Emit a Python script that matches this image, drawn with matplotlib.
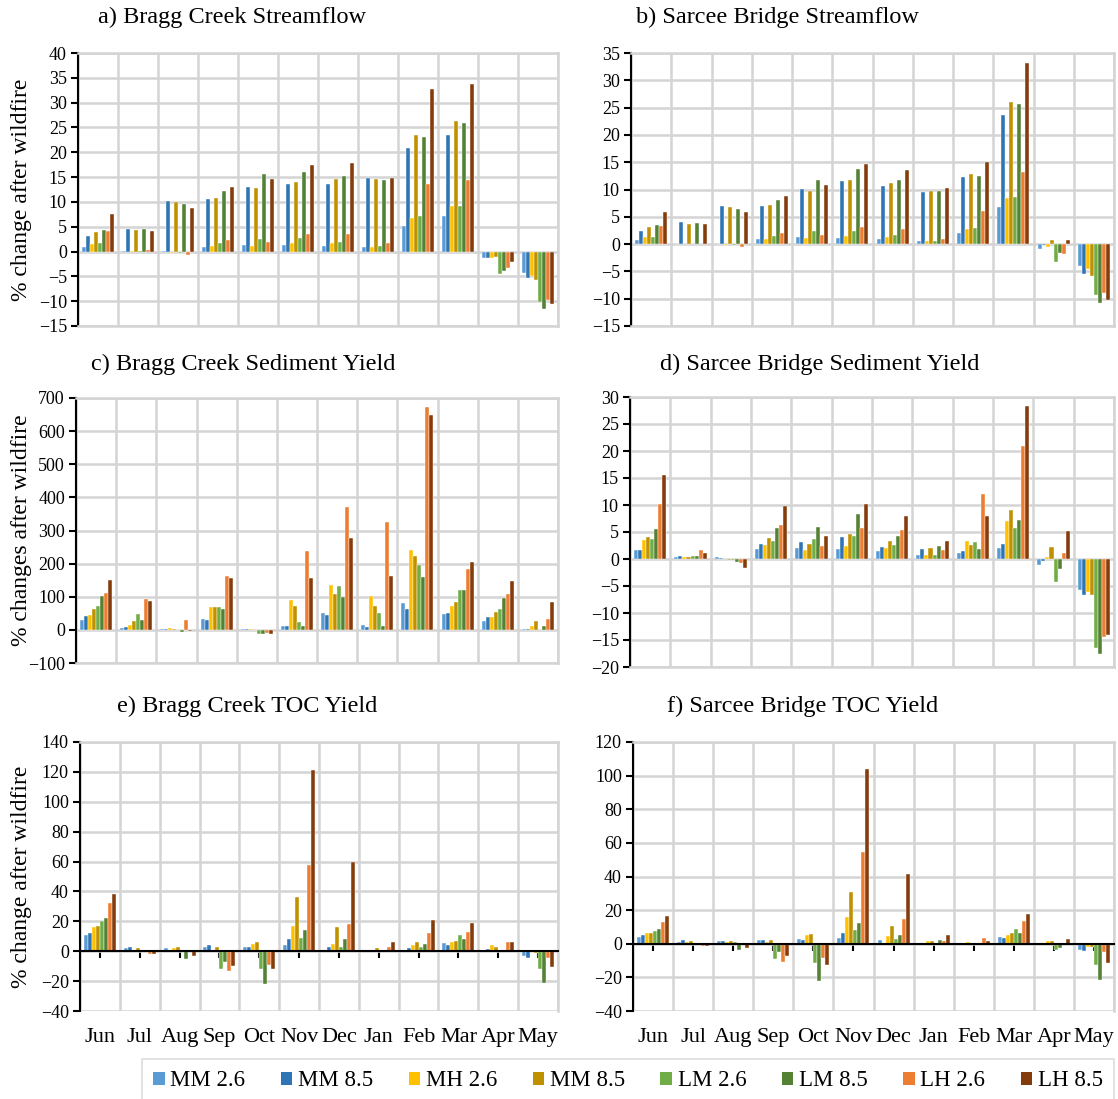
import numpy as np
import matplotlib.pyplot as plt
from matplotlib.patches import Patch

plt.rcParams['font.family'] = ['Liberation Serif', 'DejaVu Serif']

months = ["Jun", "Jul", "Aug", "Sep", "Oct", "Nov", "Dec", "Jan", "Feb", "Mar", "Apr", "May"]
series = ["MM 2.6", "MM 8.5", "MH 2.6", "MM 8.5", "LM 2.6", "LM 8.5", "LH 2.6", "LH 8.5"]
colors = ["#5B9BD5", "#2E75B6", "#FFC000", "#BF9000", "#70AD47", "#548235", "#ED7D31", "#843C0C"]

# one row per month, one column per scenario (order as in `series`)
bragg_flow = [
    [1.0, 3.2, 1.6, 4.0, 1.8, 4.4, 4.2, 7.6],
    [0.1, 4.6, 0.2, 4.4, 0.2, 4.6, 0.4, 4.2],
    [0.1, 10.2, -0.2, 10.0, -0.2, 9.6, -0.6, 8.8],
    [1.0, 10.6, 1.2, 10.8, 1.8, 12.2, 2.4, 13.0],
    [1.4, 13.0, 1.2, 12.8, 2.6, 15.6, 2.0, 14.6],
    [1.4, 13.6, 1.8, 14.0, 2.8, 16.0, 3.6, 17.4],
    [1.2, 13.6, 1.8, 14.6, 2.0, 15.2, 3.6, 17.8],
    [1.0, 14.8, 1.0, 14.6, 1.2, 14.4, 1.8, 14.8],
    [5.2, 20.8, 6.8, 23.4, 7.2, 23.0, 13.6, 32.8],
    [7.2, 23.4, 9.2, 26.4, 9.2, 25.8, 14.4, 33.8],
    [-1.4, -1.2, -1.4, -1.0, -4.6, -4.0, -3.4, -2.2],
    [-4.4, -5.4, -5.0, -5.7, -10.1, -11.5, -9.7, -10.6],
]
sarcee_flow = [
    [0.7, 2.4, 1.3, 3.1, 1.3, 3.5, 3.3, 5.9],
    [0.1, 4.0, 0.1, 3.7, 0.1, 3.8, 0.1, 3.7],
    [0.1, 7.0, -0.1, 6.8, -0.1, 6.4, -0.5, 5.8],
    [0.9, 7.0, 0.9, 7.2, 1.4, 8.1, 2.0, 8.8],
    [1.3, 10.1, 1.1, 9.7, 2.4, 11.8, 1.6, 10.9],
    [1.1, 11.5, 1.4, 11.8, 2.4, 13.8, 3.1, 14.6],
    [0.9, 10.6, 1.3, 11.2, 1.6, 11.7, 2.7, 13.5],
    [0.5, 9.5, 0.5, 9.7, 0.5, 9.8, 0.9, 10.2],
    [2.0, 12.3, 2.7, 12.9, 2.9, 12.4, 6.1, 15.1],
    [6.8, 23.7, 8.4, 26.0, 8.6, 25.7, 13.2, 33.1],
    [-0.9, -0.1, -0.6, 0.7, -3.2, -1.6, -1.8, 0.7],
    [-4.1, -5.4, -4.5, -5.8, -9.4, -10.8, -9.0, -10.3],
]
bragg_sed = [
    [30, 41, 44, 62, 71, 101, 110, 151],
    [5, 9, 15, 26, 47, 29, 92, 86],
    [2, 2, 6, 3, -1, -5, 29, -3],
    [33, 30, 68, 68, 68, 62, 164, 158],
    [2, 2, 2, 0, -12, -13, -9, -12],
    [12, 12, 89, 71, 23, 11, 237, 158],
    [50, 44, 136, 109, 131, 98, 371, 276],
    [15, 8, 103, 71, 50, 11, 327, 164],
    [81, 63, 241, 222, 195, 161, 672, 648],
    [47, 50, 73, 85, 119, 121, 184, 205],
    [26, 38, 40, 55, 64, 97, 109, 148],
    [2, 2, 11, 28, -1, 13, 34, 84],
]
sarcee_sed = [
    [1.6, 1.6, 3.6, 4.1, 3.7, 5.6, 10.2, 15.6],
    [0.4, 0.5, 0.3, 0.3, 0.5, 0.5, 1.7, 1.2],
    [0.3, 0.1, 0.0, -0.1, -0.2, -0.5, -0.8, -1.7],
    [1.9, 2.8, 2.6, 3.9, 3.4, 5.8, 6.3, 9.8],
    [2.1, 3.2, 1.6, 2.7, 3.7, 5.9, 2.5, 4.3],
    [1.9, 4.1, 2.5, 4.6, 4.3, 8.3, 5.8, 10.1],
    [1.4, 2.3, 2.1, 3.4, 2.6, 4.3, 5.4, 7.9],
    [0.7, 1.9, 0.8, 2.1, 0.8, 2.5, 1.7, 3.4],
    [1.2, 1.4, 3.4, 2.6, 3.2, 1.9, 12.1, 7.9],
    [2.1, 2.8, 7.0, 9.1, 5.8, 7.2, 20.9, 28.4],
    [-1.1, -0.3, 0.3, 2.3, -4.3, -1.8, 1.2, 5.2],
    [-5.8, -6.6, -6.2, -6.6, -16.5, -17.6, -14.5, -14.0],
]
bragg_toc = [
    [11, 12, 16, 17, 20, 22, 32, 38],
    [2, 2.5, 1, 2, 0, 0, -2, -2],
    [2, 1, 2, 2.5, 1, -5, 0, -3],
    [3, 4, 1, 3, -12, -7, -13, -10],
    [3, 3, 5, 6, -12, -22, -9, -12],
    [4, 8, 17, 36, 9, 14, 58, 121],
    [1, 3, 5, 16, 3, 8, 18, 60],
    [0, 0, 0, 2, 0, 1, 3, 6],
    [1, 2, 4, 6.5, 3, 5, 12, 21],
    [5.3, 4, 6, 6.6, 10.6, 8.4, 13, 18.7],
    [0, 1.5, 4, 2.6, 0, 0, 6, 6],
    [-3.2, -4.5, -0.3, -1.4, -11.7, -21.5, -4.3, -10.3],
]
sarcee_toc = [
    [4, 5, 6.5, 6.5, 7.5, 8.5, 13, 16.5],
    [1, 2, 1, 1.5, 0, 0, -1.5, -1.5],
    [1.5, 1.5, 1, 1.5, 1, -4, 0, -2.5],
    [2, 2.5, 1, 2, -9, -5, -11, -7],
    [3, 2.5, 5, 6, -11.5, -22, -8.5, -12.5],
    [3.5, 6.5, 16, 30.5, 8, 12.5, 54.5, 104],
    [2, 0, 4.5, 10.5, 3, 5, 15, 41.5],
    [0, 0, 1.5, 1.5, 0, 2, 1.5, 5.5],
    [0, 0, 1, 0.5, 0, 0, 3.5, 1.5],
    [4, 3.5, 5.5, 6.5, 9, 6.5, 13.5, 17.5],
    [0, 0, 1.5, 1.5, -3.5, -2.5, 0, 3],
    [-4, -4.5, -2, -2, -12.5, -21.5, -5, -11.5],
]

W, H = 1118, 1099
fig = plt.figure(figsize=(W / 100, H / 100), dpi=100)
grid_c = "#d4d4d4"

panels = [
    # data, title, ylabel, yticks, box(left, right, top, bottom px), title pos, bottom row
    (bragg_flow, "a) Bragg Creek Streamflow", "% change after wildfire", np.arange(-15, 41, 5), (78, 558, 53, 326), (232, 17), False),
    (sarcee_flow, "b) Sarcee Bridge Streamflow", None, np.arange(-15, 36, 5), (631, 1114, 53, 326), (777, 17), False),
    (bragg_sed, "c) Bragg Creek Sediment Yield", "% changes after wildfire", np.arange(-100, 701, 100), (76, 558, 398, 663), (243, 364), False),
    (sarcee_sed, "d) Sarcee Bridge Sediment Yield", None, np.arange(-20, 31, 5), (630, 1114, 397, 667), (820, 364), False),
    (bragg_toc, "e) Bragg Creek TOC Yield", "% change after wildfire", np.arange(-40, 141, 20), (80, 558, 742, 1011), (247, 706), True),
    (sarcee_toc, "f) Sarcee Bridge TOC Yield", None, np.arange(-40, 121, 20), (633, 1114, 742, 1011), (803, 706), True),
]

x = np.arange(len(months)) + 0.5
bw = 0.1

for data, title, ylabel, yticks, box, tpos, bottom_row in panels:
    l, r, t, b = box
    ax = fig.add_axes([l / W, 1 - b / H, (r - l) / W, (b - t) / H])
    vals = np.array(data).T
    for i, (name, c) in enumerate(zip(series, colors)):
        ax.bar(x + (i - 3.5) * bw, vals[i], width=bw, color=c,
               edgecolor="white", linewidth=0.3, zorder=3)
    ax.set_xlim(0, 12)
    ax.set_ylim(yticks[0], yticks[-1])
    ax.set_yticks(yticks)
    ax.set_xticks(np.arange(13), minor=True)
    ax.set_xticks(x)
    ax.grid(which="minor", axis="x", color=grid_c, lw=1.8)
    ax.grid(which="major", axis="y", color=grid_c, lw=1.8)
    ax.grid(which="major", axis="x", visible=False)
    ax.set_axisbelow(True)
    for s in ["top", "right"]:
        ax.spines[s].set_color(grid_c)
        ax.spines[s].set_linewidth(1.8)
    ax.spines["left"].set_linewidth(1.5)
    ax.tick_params(axis="y", direction="out", length=5, width=1.5, labelsize=13, pad=3)
    ax.tick_params(axis="x", which="minor", length=0)
    if bottom_row:
        ax.spines["bottom"].set_position(("data", 0))
        ax.spines["bottom"].set_linewidth(1.5)
        ax.spines["bottom"].set_zorder(4)
        ax.tick_params(axis="x", which="major", direction="out", length=5, width=1.5, labelbottom=False)
        sec = ax.secondary_xaxis("bottom")
        sec.set_xticks(x)
        sec.set_xticklabels(months)
        sec.tick_params(length=0, labelsize=16, pad=12)
        sec.spines["bottom"].set_visible(False)
    else:
        ax.spines["bottom"].set_color(grid_c)
        ax.spines["bottom"].set_linewidth(1.8)
        ax.tick_params(axis="x", which="major", length=0, labelbottom=False)
    if ylabel:
        fig.text(22 / W, 1 - (t + b) / 2 / H, ylabel, fontsize=17, rotation=90,
                 ha="center", va="center")
    fig.text(tpos[0] / W, 1 - tpos[1] / H, title, fontsize=17.5, ha="center", va="center")

handles = [Patch(facecolor=c) for c in colors]
leg = fig.legend(handles, series, ncol=8, loc="center", bbox_to_anchor=(628 / W, 1 - 1081 / H),
                 fontsize=16.5, frameon=True, fancybox=False, edgecolor=grid_c,
                 handlelength=0.5, handleheight=0.5, handletextpad=0.25, columnspacing=1.55,
                 borderpad=0.5)
leg.get_frame().set_linewidth(1.2)

fig.savefig("out.png", dpi=100)
